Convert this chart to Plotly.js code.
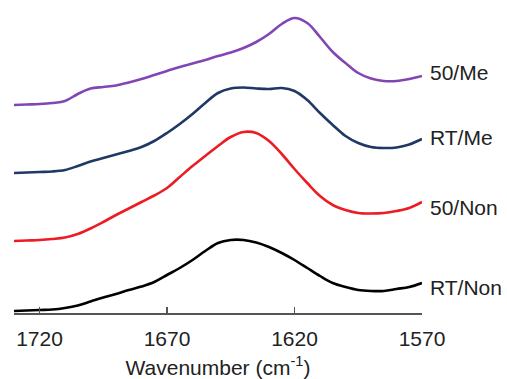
<!DOCTYPE html>
<html>
<head>
<meta charset="utf-8">
<script src="https://cdn.plot.ly/plotly-3.0.1.min.js"></script>
<style>html,body{margin:0;padding:0;background:#fff;}#chart{width:507px;height:379px;}</style>
</head>
<body>
<div id="chart"></div>
<script>
// Wavenumber (cm-1)
const wavenumber = [1730,1725,1720,1715,1710,1705,1700,1695,1690,1685,1680,1675,1670,1665,1660,1655,1650,1645,1640,1635,1630,1625,1620,1615,1610,1605,1600,1595,1590,1585,1580,1575,1570];
// Offset absorbance (a.u.)
const rtNon  = [2,2.5,3,3.5,5,7.5,11.5,15.5,19,23,26.5,31,38,45,53,62,70,73,73,70.5,66,60,53,45,37,30,26,23,22,22,24,26,30];
const fiftyNon = [72,72.5,73,74,75.5,79,84.5,91,98,104.5,111,117.5,125,136,147,157,167,176,181,180,172,159,144,130,117,108,103,100,99.5,100,102,105,111];
const rtMe   = [140,140.5,141,141.5,143,147,151.5,155,158.5,162,166,172,180,189,199,210,220,224.5,225.5,224.5,224,225,222,213,200,188,177,170,166,165,165.5,168.5,174];
const fiftyMe = [208,208.5,209,210,212,219,224.5,226,227.5,230.5,234,238,242,246,249.5,253,257,260.5,265,271,279,289,295,290,276,261,250,240,234.5,232,232,234,237];
const seriesNames = ["RT/Non","50/Non","RT/Me","50/Me"];
const labelY = [26,106,176,241];
const tickVals = [1720,1670,1620,1570];

const ys = [rtNon, fiftyNon, rtMe, fiftyMe];
const colors = ["#000000","#EC1C24","#1F3864","#8246B4"];
const traces = ys.map((y,i)=>({
  x: wavenumber, y: y, type:'scatter', mode:'lines', name: seriesNames[i],
  line:{color:colors[i], width:2.6, shape:'spline', smoothing:1},
  hoverinfo:'skip'
}));
const annotations = seriesNames.map((n,i)=>({
  text:n, xref:'paper', x:1, xanchor:'left', xshift:6, yref:'y', y:labelY[i], yanchor:'middle',
  showarrow:false, font:{family:'Arial, "Liberation Sans", sans-serif', size:21, color:'#222'}
}));
const layout = {
  width:507, height:379,
  margin:{l:14, r:85, t:0, b:66},
  paper_bgcolor:'#fff', plot_bgcolor:'#fff',
  showlegend:false,
  font:{family:'Arial, "Liberation Sans", sans-serif', size:21, color:'#222'},
  xaxis:{
    range:[1730,1570], tickvals:tickVals, ticktext:tickVals.map(String),
    showline:true, linecolor:'#555', linewidth:1.5, mirror:false,
    ticks:'inside', ticklen:6, tickwidth:1.3, tickcolor:'#555',
    ticklabelstandoff:6,
    showgrid:false, zeroline:false, automargin:false,
    tickfont:{size:21, color:'#222'},
    title:{text:'Wavenumber (cm<sup>-1</sup>)', font:{size:21, color:'#222'}, standoff:11}
  },
  yaxis:{range:[0,313], visible:false, showgrid:false, zeroline:false, fixedrange:true},
  annotations: annotations
};
Plotly.newPlot('chart', traces, layout, {displayModeBar:false, staticPlot:true});
</script>
</body>
</html>
